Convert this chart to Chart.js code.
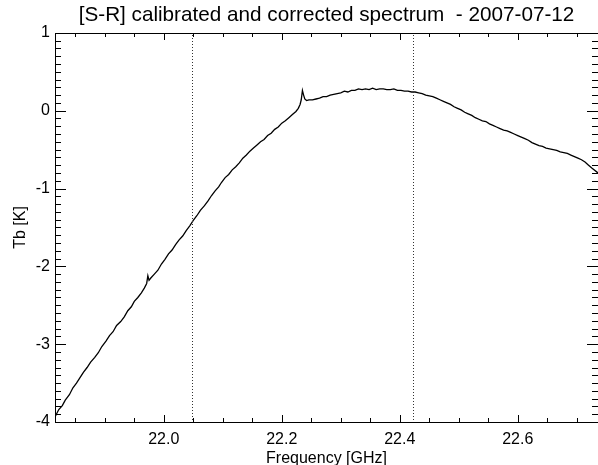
<!DOCTYPE html>
<html>
<head>
<meta charset="utf-8">
<script src="https://cdn.jsdelivr.net/npm/chart.js@4.4.0/dist/chart.umd.min.js"></script>
<style>
  html, body { margin: 0; padding: 0; background: #fff; }
  #wrap { width: 598px; height: 465px; position: relative; }
</style>
</head>
<body>
<div id="wrap"><canvas id="spectrum"></canvas></div>
<script>
// Spectrum samples: frequency (GHz) and brightness temperature (K)
const freqGHz = [
  21.816, 21.822, 21.828, 21.833, 21.840, 21.846, 21.852, 21.858, 21.864, 21.870,
  21.876, 21.883, 21.889, 21.895, 21.902, 21.908, 21.914, 21.920, 21.927, 21.933,
  21.939, 21.945, 21.950, 21.956, 21.962, 21.967, 21.971, 21.973, 21.975, 21.978,
  21.984, 21.990, 21.996, 22.002, 22.008, 22.014, 22.020, 22.026, 22.032, 22.038,
  22.044, 22.050, 22.056, 22.062, 22.069, 22.075, 22.081, 22.087, 22.093, 22.098,
  22.104, 22.110, 22.116, 22.122, 22.128, 22.134, 22.140, 22.146, 22.152, 22.158,
  22.164, 22.170, 22.176, 22.182, 22.188, 22.194, 22.200, 22.206, 22.212, 22.218,
  22.224, 22.228, 22.231, 22.233, 22.235, 22.237, 22.239, 22.242, 22.246, 22.252,
  22.258, 22.264, 22.270, 22.276, 22.282, 22.288, 22.294, 22.300, 22.306, 22.312,
  22.318, 22.324, 22.330, 22.336, 22.342, 22.348, 22.354, 22.360, 22.366, 22.372,
  22.378, 22.384, 22.390, 22.396, 22.402, 22.408, 22.414, 22.420, 22.426, 22.432,
  22.438, 22.444, 22.450, 22.456, 22.462, 22.468, 22.474, 22.480, 22.486, 22.492,
  22.498, 22.504, 22.510, 22.516, 22.522, 22.528, 22.534, 22.540, 22.546, 22.552,
  22.558, 22.564, 22.570, 22.576, 22.582, 22.588, 22.594, 22.600, 22.606, 22.612,
  22.618, 22.624, 22.630, 22.636, 22.642, 22.648, 22.654, 22.660, 22.666, 22.672,
  22.678, 22.684, 22.690, 22.696, 22.702, 22.708, 22.714, 22.720, 22.726, 22.736
];
const tbK = [
  -3.93, -3.84, -3.79, -3.72, -3.65, -3.56, -3.50, -3.43, -3.36, -3.30,
  -3.23, -3.17, -3.11, -3.03, -2.96, -2.89, -2.84, -2.76, -2.71, -2.65,
  -2.57, -2.52, -2.45, -2.40, -2.34, -2.28, -2.22, -2.12, -2.18, -2.15,
  -2.10, -2.05, -1.97, -1.91, -1.84, -1.79, -1.72, -1.66, -1.61, -1.54,
  -1.48, -1.41, -1.35, -1.28, -1.22, -1.16, -1.09, -1.03, -0.98, -0.92,
  -0.86, -0.82, -0.76, -0.72, -0.67, -0.61, -0.57, -0.52, -0.48, -0.44,
  -0.40, -0.37, -0.32, -0.29, -0.24, -0.21, -0.16, -0.13, -0.09, -0.05,
  -0.01, 0.03, 0.08, 0.14, 0.26, 0.20, 0.15, 0.13, 0.14, 0.14,
  0.15, 0.16, 0.18, 0.18, 0.20, 0.21, 0.22, 0.23, 0.25, 0.24,
  0.26, 0.26, 0.28, 0.27, 0.28, 0.27, 0.29, 0.27, 0.28, 0.28,
  0.27, 0.27, 0.28, 0.26, 0.26, 0.25, 0.25, 0.24, 0.24, 0.23,
  0.22, 0.20, 0.19, 0.18, 0.16, 0.14, 0.12, 0.10, 0.08, 0.05,
  0.03, 0.01, -0.02, -0.04, -0.06, -0.09, -0.11, -0.13, -0.14, -0.17,
  -0.19, -0.21, -0.23, -0.25, -0.26, -0.28, -0.30, -0.32, -0.34, -0.36,
  -0.38, -0.41, -0.43, -0.45, -0.46, -0.48, -0.49, -0.50, -0.51, -0.53,
  -0.54, -0.55, -0.57, -0.59, -0.61, -0.63, -0.66, -0.70, -0.74, -0.80
];

// Axis ticks and the dotted integration-window markers
const xTicks = [22.0, 22.2, 22.4, 22.6];
const yTicks = [-4, -3, -2, -1, 0, 1];
const windowLines = [22.0475, 22.4225];
const xRange = [21.8156, 22.736];
const yRange = [-4, 1];

const labelFont = { family: '"Liberation Sans", Arial, Helvetica, sans-serif', size: 16, weight: 'normal' };

// IDL-style frame: box on all sides with inward major/minor ticks
const axisFrame = {
  id: 'axisFrame',
  afterDraw(chart) {
    const { ctx, chartArea: a, scales } = chart;
    const xs = scales.x, ys = scales.y;
    const L = Math.round(a.left), R = Math.round(a.right);
    const T = Math.round(a.top), B = Math.round(a.bottom);
    ctx.save();

    // dotted verticals, one dot every 3 px
    ctx.fillStyle = '#333';
    for (const f of windowLines) {
      const px = Math.round(xs.getPixelForValue(f));
      for (let py = T + 2; py < B; py += 3) ctx.fillRect(px, py, 1, 1);
    }
    ctx.fillStyle = '#000';

    // box
    ctx.fillRect(L, T, R - L + 1, 1);
    ctx.fillRect(L, B, R - L + 1, 1);
    ctx.fillRect(L, T, 1, B - T + 1);
    ctx.fillRect(R, T, 1, B - T + 1);

    // x ticks every 0.05 GHz, major every 0.2
    const k0 = Math.ceil(xRange[0] * 20), k1 = Math.floor(xRange[1] * 20);
    for (let k = k0; k <= k1; k++) {
      const px = Math.round(xs.getPixelForValue(k / 20));
      const len = k % 4 === 0 ? 7 : 4;
      ctx.fillRect(px, B - len, 1, len);
      ctx.fillRect(px, T, 1, len);
    }

    // y ticks every 0.1 K, major every 1
    for (let k = -40; k <= 10; k++) {
      const py = Math.round(ys.getPixelForValue(k / 10));
      const len = k % 10 === 0 ? 11 : 6;
      ctx.fillRect(L, py, len, 1);
      ctx.fillRect(R - len, py, len, 1);
    }
    ctx.restore();
  }
};

new Chart(document.getElementById('spectrum'), {
  type: 'line',
  data: {
    datasets: [{
      data: freqGHz.map((f, i) => ({ x: f, y: tbK[i] })),
      borderColor: '#000',
      borderWidth: 1.3,
      pointRadius: 0,
      tension: 0,
      fill: false
    }]
  },
  options: {
    responsive: true,
    maintainAspectRatio: false,
    animation: false,
    layout: { padding: { left: 0, right: -6, top: 0, bottom: 0 } },
    plugins: {
      legend: { display: false },
      tooltip: { enabled: false },
      title: {
        display: true,
        fullSize: false,
        text: '[S-R] calibrated and corrected spectrum  - 2007-07-12',
        color: '#000',
        font: { family: labelFont.family, size: 20.7, weight: 'normal' },
        padding: { top: 3, bottom: 5 }
      }
    },
    scales: {
      x: {
        type: 'linear',
        min: xRange[0],
        max: xRange[1],
        grid: { display: false, drawTicks: false },
        border: { display: false },
        afterBuildTicks: s => { s.ticks = xTicks.map(v => ({ value: v })); },
        afterFit: s => { s.height = 43; },
        ticks: { color: '#000', font: labelFont, padding: 8, maxRotation: 0, callback: v => v.toFixed(1) },
        title: { display: true, text: 'Frequency [GHz]', color: '#000', font: labelFont, padding: { top: 0, bottom: -3 } }
      },
      y: {
        type: 'linear',
        min: yRange[0],
        max: yRange[1],
        grid: { display: false, drawTicks: false },
        border: { display: false },
        afterBuildTicks: s => { s.ticks = yTicks.map(v => ({ value: v })); },
        afterFit: s => { s.width = 55; },
        ticks: { color: '#000', font: labelFont, padding: 5, callback: v => String(v) },
        title: { display: true, text: 'Tb [K]', color: '#000', font: labelFont, padding: { top: 11, bottom: 0 } }
      }
    }
  },
  plugins: [axisFrame]
});
</script>
</body>
</html>
